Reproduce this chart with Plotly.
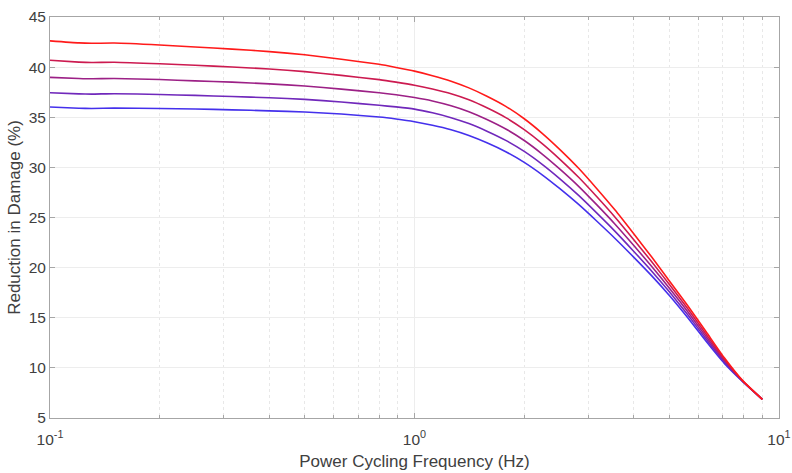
import plotly.graph_objects as go

# Power cycling frequency (Hz)
freq = [0.1, 0.12, 0.13, 0.15, 0.2, 0.25, 0.316, 0.4, 0.5, 0.63, 0.8, 0.89, 1.0,
        1.12, 1.26, 1.41, 1.58, 1.78, 2.0, 2.24, 2.51, 2.82, 3.16, 3.55, 3.98, 4.47,
        5.01, 5.62, 6.31, 7.08, 7.94, 9.0]

# Reduction in damage (%) for five curves, blue -> red
s_blue = [36.02, 35.90, 35.88, 35.92, 35.88, 35.82, 35.74, 35.64, 35.52, 35.32, 35.02,
          34.82, 34.55, 34.20, 33.75, 33.18, 32.45, 31.56, 30.50, 29.26, 27.85, 26.30,
          24.65, 22.91, 21.10, 19.20, 17.20, 15.00, 12.65, 10.45, 8.65, 6.86]
s_violet = [37.45, 37.33, 37.31, 37.35, 37.27, 37.18, 37.07, 36.94, 36.78, 36.52, 36.19,
            36.03, 35.81, 35.44, 34.96, 34.37, 33.61, 32.69, 31.59, 30.30, 28.83, 27.20,
            25.46, 23.62, 21.69, 19.67, 17.56, 15.30, 12.88, 10.59, 8.67, 6.86]
s_purple = [38.98, 38.87, 38.84, 38.87, 38.76, 38.63, 38.50, 38.33, 38.12, 37.81, 37.44,
            37.24, 36.97, 36.63, 36.15, 35.56, 34.78, 33.83, 32.68, 31.33, 29.80, 28.11,
            26.28, 24.33, 22.28, 20.14, 17.93, 15.60, 13.12, 10.73, 8.70, 6.86]
s_crimson = [40.68, 40.50, 40.46, 40.49, 40.34, 40.18, 40.01, 39.81, 39.55, 39.18, 38.75,
             38.50, 38.19, 37.81, 37.34, 36.74, 35.94, 34.96, 33.76, 32.37, 30.78, 29.01,
             27.09, 25.03, 22.86, 20.61, 18.29, 15.89, 13.36, 10.86, 8.72, 6.86]
s_red = [42.62, 42.42, 42.38, 42.40, 42.20, 42.00, 41.80, 41.55, 41.23, 40.79, 40.28,
         39.97, 39.60, 39.15, 38.60, 37.93, 37.10, 36.09, 34.85, 33.40, 31.75, 29.91,
         27.90, 25.74, 23.45, 21.08, 18.65, 16.19, 13.60, 11.00, 8.75, 6.86]

series = [s_blue, s_violet, s_purple, s_crimson, s_red]
colors = ["#4430ec", "#7028bb", "#9c2086", "#cc1a50", "#ff1a1a"]

x_major = [0.1, 1, 10]
x_major_text = ["10<sup>-1</sup>", "10<sup>0</sup>", "10<sup>1</sup>"]
x_minor = [0.2, 0.3, 0.4, 0.5, 0.6, 0.7, 0.8, 0.9, 2, 3, 4, 5, 6, 7, 8, 9]

fig = go.Figure()
for ys, c in zip(series, colors):
    fig.add_trace(go.Scatter(x=freq, y=ys, mode="lines",
                             line=dict(color=c, width=1.6, shape="spline", smoothing=0.5),
                             showlegend=False, hoverinfo="skip"))

font_family = "Liberation Sans, Arial, sans-serif"
axis_col = "#a6a6a6"
grid_col = "#ededed"
text_col = "#404040"

fig.update_layout(
    width=792, height=473,
    margin=dict(l=50, r=13, t=17, b=55),
    paper_bgcolor="white", plot_bgcolor="white",
    font=dict(family=font_family, size=15.5, color=text_col),
)
fig.update_xaxes(
    type="log", range=[-1, 1], automargin=False,
    tickmode="array", tickvals=x_major, ticktext=x_major_text,
    ticks="inside", ticklen=5, tickcolor=axis_col,
    showline=True, linecolor=axis_col, linewidth=1, mirror="ticks",
    showgrid=True, gridcolor=grid_col, gridwidth=1,
    zeroline=False,
    tickfont=dict(size=15.5, color=text_col),
    ticklabelstandoff=7,
    minor=dict(tickmode="array", tickvals=x_minor, ticks="inside", ticklen=3,
               tickcolor=axis_col, showgrid=True, gridcolor="#e8e8e8",
               griddash="dot", gridwidth=1),
    title=dict(text="Power Cycling Frequency (Hz)", font=dict(size=17, color=text_col),
               standoff=8),
)
fig.update_yaxes(
    range=[5, 45], tickmode="linear", tick0=5, dtick=5, automargin=False,
    ticks="inside", ticklen=5, tickcolor=axis_col,
    showline=True, linecolor=axis_col, linewidth=1, mirror="ticks",
    showgrid=True, gridcolor=grid_col, gridwidth=1,
    zeroline=False,
    tickfont=dict(size=15.5, color=text_col),
    title=dict(text="Reduction in Damage (%)", font=dict(size=17, color=text_col),
               standoff=3),
)

fig.write_html("out.html")
